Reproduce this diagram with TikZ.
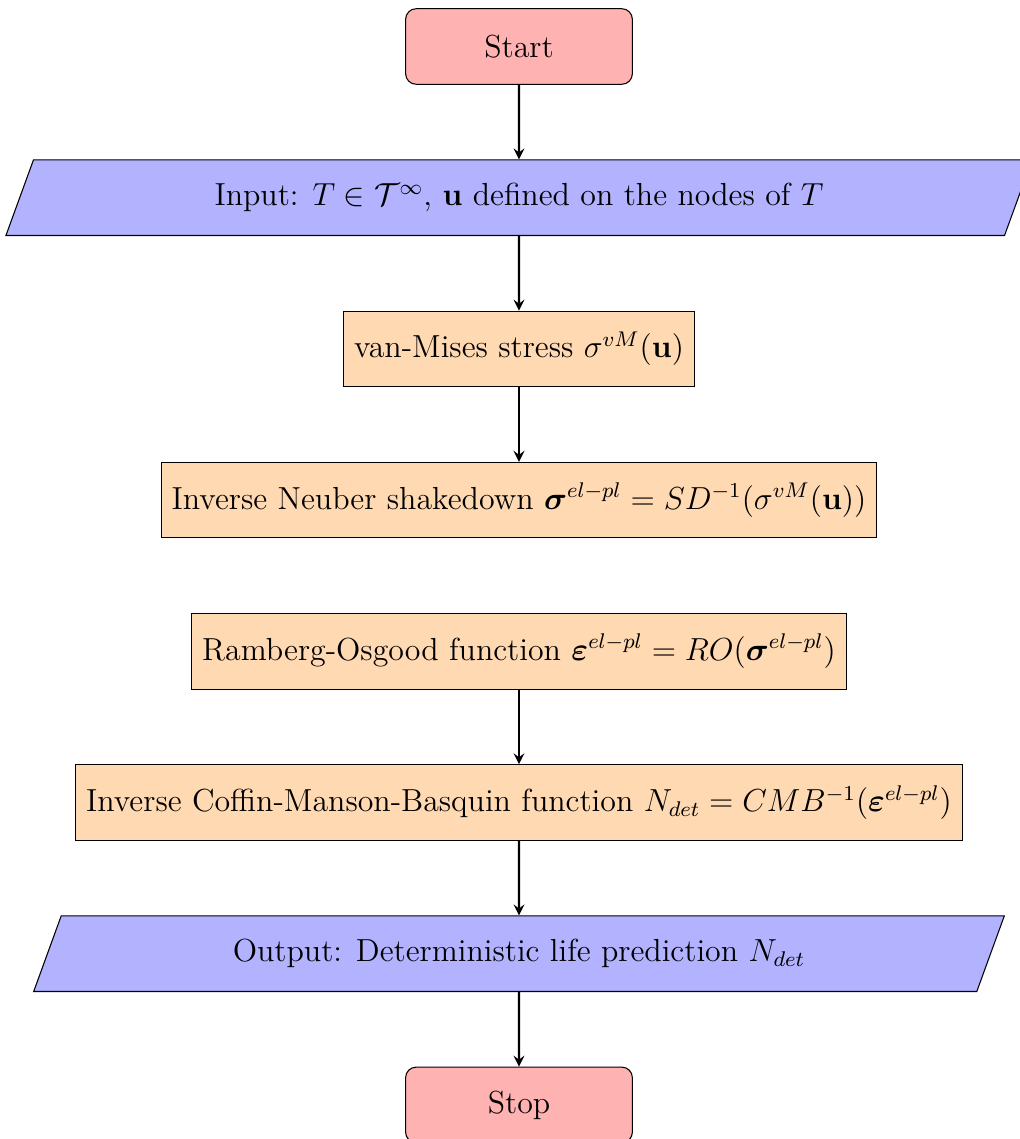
\documentclass[tikz,border=0pt,12pt]{standalone}
\usepackage{amsmath, amssymb, bm}
\usepackage{tikz}
\usetikzlibrary{arrows, positioning, shapes.geometric}

\tikzset{
  startstop/.style={rectangle, rounded corners, minimum width=3cm, minimum height=1cm, text centered, draw=black, fill=red!30},
  io/.style={trapezium, trapezium left angle=70, trapezium right angle=110, minimum width=3cm, minimum height=1cm, inner xsep=6pt, text centered, draw=black, fill=blue!30},
  process/.style={rectangle, minimum width=3cm, minimum height=1cm, text centered, draw=black, fill=orange!30},
  arrow/.style={thick, ->, >=stealth}
}

\begin{document}
\begin{tikzpicture}[node distance=2cm, on grid]
    \useasboundingbox (-6.865,0.615) rectangle (6.627,-14.451);
    % nodes
    \node (start) [startstop] at (0,0) {Start};
    \node (in1) [io, below=of start] {Input: $T \in \mathcal{T}^{\infty}$, $\mathbf{u}$ defined on the nodes of $T$};
    \node (pro1) [process, below=of in1] {van-Mises stress $\sigma^{vM}(\mathbf{u})$};
    \node (pro2) [process, below=of pro1] {Inverse Neuber shakedown $\bm{\sigma}^{el-pl} = SD^{-1}(\sigma^{vM}(\mathbf{u}))$};
    \node (pro3) [process, below=of pro2] {Ramberg-Osgood function $\bm{\varepsilon}^{el-pl} = RO(\bm{\sigma}^{el-pl})$};
    \node (pro4) [process, below=of pro3] {Inverse Coffin-Manson-Basquin function $N_{det} = CMB^{-1}(\bm{\varepsilon}^{el-pl})$};
    \node (out1) [io, below=of pro4] {Output: Deterministic life prediction $N_{det}$};
    \node (stop) [startstop, below=of out1] {Stop};
    % arrows
    \draw [arrow] (start) -- (in1);
    \draw [arrow] (in1) -- (pro1);
    \draw [arrow] (pro1) -- (pro2);
    \draw [arrow] (pro3) -- (pro4);
    \draw [arrow] (pro4) -- (out1);
    \draw [arrow] (out1) -- (stop);
\end{tikzpicture}
\end{document}
